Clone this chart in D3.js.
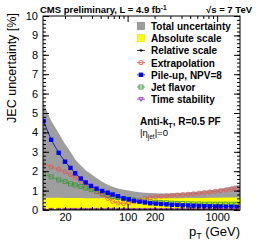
<!DOCTYPE html>
<html>
<head>
<meta charset="utf-8">
<script src="https://cdn.jsdelivr.net/npm/d3@7"></script>
<style>
body { margin: 0; background: #fff; }
text { font-family: "Liberation Sans", Arial, sans-serif; }
</style>
</head>
<body>
<div id="plot"></div>
<script>
// pT bin centres (GeV)
var ptValues = [11.5, 14, 17, 20, 23, 26, 30, 34, 39, 45, 52, 60, 68, 78, 90, 103, 118, 136, 156, 179,
    206, 236, 272, 312, 359, 412, 474, 544, 626, 719, 826, 949, 1091, 1254, 1441, 1656];

var totalUnc = [5.5, 4.6, 3.95, 3.4, 3.0, 2.6, 2.3, 2.05, 1.85, 1.65, 1.45, 1.3, 1.2, 1.11, 1.05, 1.0, 0.96, 0.92, 0.89, 0.87,
    0.86, 0.85, 0.85, 0.86, 0.87, 0.89, 0.91, 0.93, 0.96, 0.99, 1.02, 1.05, 1.1, 1.15, 1.21, 1.28];
var absoluteUnc = [0.63, 0.63, 0.63, 0.62, 0.62, 0.62, 0.62, 0.61, 0.61, 0.61, 0.61, 0.6, 0.6, 0.6, 0.6, 0.6, 0.6, 0.6, 0.6, 0.6,
    0.6, 0.6, 0.61, 0.61, 0.61, 0.61, 0.62, 0.62, 0.62, 0.62, 0.63, 0.63, 0.63, 0.64, 0.64, 0.64];
var relativeUnc = [0, 0, 0, 0, 0, 0, 0, 0, 0, 0, 0, 0, 0, 0, 0, 0, 0, 0, 0, 0,
    0, 0, 0, 0, 0, 0, 0, 0, 0, 0, 0, 0, 0, 0, 0, 0];
var extrapUnc = [2.36, 2.22, 2.1, 1.97, 1.82, 1.66, 1.49, 1.36, 1.19, 0.95, 0.78, 0.6, 0.45, 0.36, 0.34, 0.36, 0.42, 0.5, 0.58, 0.64,
    0.68, 0.71, 0.73, 0.75, 0.77, 0.79, 0.81, 0.84, 0.87, 0.9, 0.93, 0.96, 1.0, 1.03, 1.07, 1.1];
var pileupUnc = [4.58, 3.62, 2.95, 2.49, 2.17, 1.89, 1.62, 1.42, 1.24, 1.1, 0.98, 0.89, 0.8, 0.71, 0.6, 0.55, 0.48, 0.43, 0.39, 0.35,
    0.33, 0.31, 0.29, 0.27, 0.26, 0.24, 0.23, 0.22, 0.21, 0.2, 0.19, 0.18, 0.18, 0.17, 0.17, 0.16];
var flavorUnc = [1.85, 1.71, 1.55, 1.46, 1.35, 1.29, 1.21, 1.13, 1.05, 0.95, 0.85, 0.77, 0.7, 0.64, 0.6, 0.56, 0.52, 0.48, 0.45, 0.42,
    0.4, 0.38, 0.37, 0.35, 0.34, 0.33, 0.32, 0.31, 0.31, 0.3, 0.3, 0.3, 0.3, 0.3, 0.3, 0.3];
var timeUnc = [0, 0, 0, 0, 0, 0, 0, 0, 0, 0, 0, 0, 0, 0, 0, 0, 0, 0, 0, 0,
    0, 0, 0, 0, 0, 0, 0, 0, 0, 0, 0, 0, 0, 0, 0, 0];

var yTicks = [0, 1, 2, 3, 4, 5, 6, 7, 8, 9, 10];
var xLabelTicks = [20, 100, 200, 1000];
var xMinorTicks = [20, 30, 40, 50, 60, 70, 80, 90, 200, 300, 400, 500, 600, 700, 800, 900];
var xMajorTicks = [100, 1000];

var legendNames = ["Total uncertainty", "Absolute scale", "Relative scale", "Extrapolation",
    "Pile-up, NPV=8", "Jet flavor", "Time stability"];

var margin = {top: 16, right: 18, bottom: 36, left: 43},
    width = 258 - margin.left - margin.right,
    height = 246 - margin.top - margin.bottom;

var svg = d3.select("#plot")
    .append("svg")
    .attr("width", 258)
    .attr("height", 246);

var g = svg.append("g")
    .attr("transform", "translate(" + margin.left + "," + margin.top + ")");

var x = d3.scaleLog().domain([11.35, 1800]).range([0, width]);
var y = d3.scaleLinear().domain([0, 10]).range([height, 0]);

g.append("clipPath").attr("id", "clip")
    .append("rect").attr("width", width).attr("height", height);

var rows = ptValues.map(function(p, i) {
    return {pt: p, total: totalUnc[i], abs: absoluteUnc[i], rel: relativeUnc[i],
        extrap: extrapUnc[i], pu: pileupUnc[i], flavor: flavorUnc[i], time: timeUnc[i]};
});

// bands extended to the frame edges
function bandData(key) {
    var d = rows.map(function(r) { return [r.pt, r[key]]; });
    d.unshift([x.domain()[0], d[0][1]]);
    d.push([x.domain()[1], d[d.length - 1][1]]);
    return d;
}

var area = d3.area()
    .x(function(d) { return x(d[0]); })
    .y0(y(0))
    .y1(function(d) { return y(d[1]); });

var plotArea = g.append("g").attr("clip-path", "url(#clip)");

plotArea.append("path")
    .datum(bandData("total"))
    .attr("d", area)
    .style("fill", "#9e9e9e");

plotArea.append("path")
    .datum(bandData("abs"))
    .attr("d", area)
    .style("fill", "#ffff00");

var series = [
    {key: "flavor", color: "#3a9a3a", marker: "osquare"},
    {key: "extrap", color: "#e8504a", marker: "ocircle"},
    {key: "pu", color: "#0000ff", marker: "fsquare"},
    {key: "time", color: "#9933cc", marker: "otri"},
    {key: "rel", color: "#000000", marker: "plus"}
];

var line = d3.line()
    .x(function(d) { return x(d.pt); });

function drawMarker(sel, type, color) {
    if (type == "fsquare") {
        sel.append("rect").attr("x", -2.2).attr("y", -2.2).attr("width", 4.4).attr("height", 4.4)
            .style("fill", color);
    } else if (type == "osquare") {
        sel.append("rect").attr("x", -2).attr("y", -2).attr("width", 4).attr("height", 4)
            .style("fill", "none").style("stroke", color).style("stroke-width", 0.9);
    } else if (type == "ocircle") {
        sel.append("circle").attr("r", 2.1)
            .style("fill", "none").style("stroke", color).style("stroke-width", 0.9);
    } else if (type == "otri") {
        sel.append("path").attr("d", "M-2.3,-1.6L2.3,-1.6L0,2.2Z")
            .style("fill", "none").style("stroke", color).style("stroke-width", 0.9);
    } else {
        sel.append("path").attr("d", "M-1.6,0H1.6M0,-1.6V1.6")
            .style("stroke", color).style("stroke-width", 0.9);
    }
}

series.forEach(function(s) {
    plotArea.append("path")
        .datum(rows)
        .attr("d", line.y(function(d) { return y(d[s.key]); }))
        .style("fill", "none")
        .style("stroke", s.color)
        .style("stroke-width", 0.8)
        .style("opacity", s.key == "extrap" ? 0.8 : 1);

    plotArea.selectAll("mk" + s.key)
        .data(rows)
        .enter().append("g")
        .attr("transform", function(d) { return "translate(" + x(d.pt) + "," + y(d[s.key]) + ")"; })
        .style("opacity", s.key == "extrap" ? 0.8 : 1)
        .each(function() { drawMarker(d3.select(this), s.marker, s.color); });
});

// frame
g.append("rect")
    .attr("width", width).attr("height", height)
    .style("fill", "none").style("stroke", "#000").style("stroke-width", 1);

// y axes, ticks inside
function plain(sel) {
    sel.select(".domain").remove();
    sel.selectAll("line").style("stroke", "#000");
}

g.append("g")
    .call(d3.axisLeft(y).tickValues(yTicks).tickSizeInner(-6).tickSizeOuter(0).tickPadding(5))
    .call(plain)
    .selectAll("text")
    .style("font-size", "11px")
    .style("font-family", "Liberation Sans, Arial, sans-serif");

g.append("g")
    .call(d3.axisLeft(y).ticks(50).tickSizeInner(-3).tickSizeOuter(0).tickFormat(""))
    .call(plain);

g.append("g")
    .attr("transform", "translate(" + width + ",0)")
    .call(d3.axisRight(y).tickValues(yTicks).tickSizeInner(-6).tickSizeOuter(0).tickFormat(""))
    .call(plain);

g.append("g")
    .attr("transform", "translate(" + width + ",0)")
    .call(d3.axisRight(y).ticks(50).tickSizeInner(-3).tickSizeOuter(0).tickFormat(""))
    .call(plain);

// x axes
g.append("g")
    .attr("transform", "translate(0," + height + ")")
    .call(d3.axisBottom(x).tickValues(xLabelTicks).tickSize(0).tickPadding(3)
        .tickFormat(function(d) { return d; }))
    .call(plain)
    .selectAll("text")
    .style("font-size", "11px")
    .style("font-family", "Liberation Sans, Arial, sans-serif");

[[xMajorTicks, 6], [xMinorTicks, 3]].forEach(function(t) {
    g.append("g")
        .attr("transform", "translate(0," + height + ")")
        .call(d3.axisBottom(x).tickValues(t[0]).tickSizeInner(-t[1]).tickSizeOuter(0).tickFormat(""))
        .call(plain);
    g.append("g")
        .call(d3.axisTop(x).tickValues(t[0]).tickSizeInner(-t[1]).tickSizeOuter(0).tickFormat(""))
        .call(plain);
});

// axis titles
svg.append("text")
    .attr("transform", "translate(16,68) rotate(-90)")
    .style("text-anchor", "middle")
    .style("font-size", "12.5px")
    .text("JEC uncertainty [%]");

var xt = svg.append("text")
    .attr("x", 240).attr("y", 236)
    .style("text-anchor", "end")
    .style("font-size", "13px");
xt.append("tspan").text("p");
xt.append("tspan").attr("dy", 3).style("font-size", "9px").text("T");
xt.append("tspan").attr("dy", -3).text(" (GeV)");

// header
var head = svg.append("text")
    .attr("x", 40).attr("y", 13)
    .style("font-size", "9.5px").style("font-weight", "bold");
head.append("tspan").text("CMS preliminary, L = 4.9 fb");
head.append("tspan").attr("dy", -3).style("font-size", "6.5px").text("-1");

svg.append("text")
    .attr("x", 252).attr("y", 13)
    .style("text-anchor", "end")
    .style("font-size", "9.5px").style("font-weight", "bold")
    .text("\u221As = 7 TeV");

// legend
var legendStyle = [
    {type: "box", color: "#9e9e9e", stroke: "#777"},
    {type: "box", color: "#ffff00", stroke: "#e0e000"},
    {type: "line", color: "#000000", marker: "plus"},
    {type: "line", color: "#e8504a", marker: "ocircle"},
    {type: "line", color: "#0000ff", marker: "fsquare"},
    {type: "line", color: "#3a9a3a", marker: "osquare"},
    {type: "line", color: "#9933cc", marker: "otri"}
];

var legend = svg.append("g").attr("transform", "translate(141,26)");

legendNames.forEach(function(name, i) {
    var row = legend.append("g").attr("transform", "translate(0," + (i * 12.2) + ")");
    var st = legendStyle[i];
    if (st.type == "box") {
        row.append("rect").attr("x", -3.5).attr("y", -3.5).attr("width", 7).attr("height", 7)
            .style("fill", st.color).style("stroke", st.stroke).style("stroke-width", 0.6);
    } else {
        row.append("line").attr("x1", -4).attr("x2", 4)
            .style("stroke", st.color).style("stroke-width", 0.8);
        drawMarker(row, st.marker, st.color);
    }
    row.append("text")
        .attr("x", 10).attr("y", 4)
        .style("font-size", "10px").style("font-weight", "bold")
        .text(name);
});

// jet info
var ak = svg.append("text")
    .attr("x", 140).attr("y", 125)
    .style("font-size", "10px").style("font-weight", "bold");
ak.append("tspan").text("Anti-k");
ak.append("tspan").attr("dy", 2.5).style("font-size", "7px").text("T");
ak.append("tspan").attr("dy", -2.5).text(", R=0.5 PF");

var eta = svg.append("text")
    .attr("x", 140).attr("y", 136)
    .style("font-size", "9.5px");
eta.append("tspan").text("|\u03b7");
eta.append("tspan").attr("dy", 2.5).style("font-size", "6.5px").text("jet");
eta.append("tspan").attr("dy", -2.5).text("|=0");
</script>
</body>
</html>
